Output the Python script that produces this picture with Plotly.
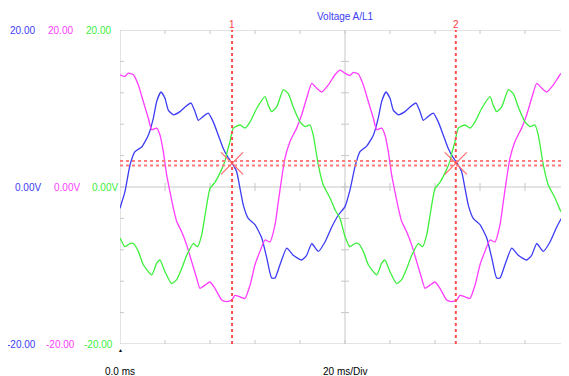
import plotly.graph_objects as go

# ---------------- data (time in ms, value in V) ----------------
blue_t = [0.00, 0.44, 0.89, 1.33, 1.93, 2.52, 2.96, 3.26, 3.64, 4.00, 4.29, 4.74, 5.33, 5.78,
          6.31, 6.67, 6.96, 7.40, 7.85, 8.29, 8.74, 9.18, 9.63, 9.93, 10.37, 10.67, 10.96,
          11.40, 12.00, 12.60, 13.04, 13.48, 13.78, 14.22, 14.82, 15.40, 16.15, 16.59, 17.04,
          17.63, 18.22, 18.82, 19.40,
          20.00, 20.44, 20.89, 21.33, 21.93, 22.52, 22.96, 23.26, 23.64, 24.00, 24.29, 24.74,
          25.33, 25.78, 26.31, 26.67, 26.96, 27.40, 27.85, 28.29, 28.74, 29.18, 29.63, 29.93,
          30.37, 30.67, 30.96, 31.40, 32.00, 32.60, 33.04, 33.48, 33.78, 34.22, 34.82, 35.40,
          36.15, 36.59, 37.04, 37.63, 38.22, 38.82, 39.40, 39.95]
blue_v = [-2.7, -0.6, 2.8, 4.5, 5.1, 6.6, 8.75, 10.9, 12.1, 11.3, 9.8, 9.2, 9.6, 10.2,
          10.7, 9.6, 8.5, 9.0, 9.4, 8.3, 6.6, 4.9, 3.7, 3.1, 1.95, -0.2, -2.3,
          -4.0, -4.8, -6.5, -9.0, -11.6, -11.6, -9.9, -7.8, -8.7, -9.3, -8.7, -7.2,
          -8.2, -7.0, -5.1, -3.6,
          -2.5, -0.4, 2.6, 4.5, 5.2, 6.6, 8.8, 10.9, 12.1, 11.3, 9.8, 9.2,
          9.6, 10.2, 10.7, 9.6, 8.5, 9.0, 9.4, 8.3, 6.6, 4.9, 3.7, 3.1,
          1.95, -0.2, -2.3, -4.0, -4.8, -6.5, -9.0, -11.6, -11.6, -9.9, -7.8, -8.7,
          -9.3, -8.7, -7.2, -8.2, -7.0, -5.1, -3.6, -2.5]

magenta_t = [0.00, 0.44, 0.74, 1.18, 1.63, 2.07, 2.52, 2.82, 3.26, 3.56, 3.85, 4.15, 4.44,
             4.74, 5.04, 5.48, 5.93, 6.37, 6.81, 7.11, 7.56, 8.00, 8.44, 9.04, 9.48, 9.93,
             10.22, 10.67, 11.11, 11.56, 12.00, 12.44, 12.89, 13.33, 13.78, 14.07, 14.37,
             14.67, 15.11, 15.70, 16.15, 16.59, 17.04, 17.48, 17.93, 18.52, 19.11, 19.56,
             20.00, 20.44, 20.74, 21.18, 21.63, 22.07, 22.52, 22.82, 23.26, 23.56, 23.85,
             24.15, 24.44, 24.74, 25.04, 25.48, 25.93, 26.37, 26.81, 27.11, 27.56, 28.00,
             28.44, 29.04, 29.48, 29.93, 30.22, 30.67, 31.11, 31.56, 32.00, 32.44, 32.89,
             33.33, 33.78, 34.07, 34.37, 34.67, 35.11, 35.70, 36.15, 36.59, 37.04, 37.48,
             37.93, 38.52, 39.11, 39.56, 39.95]
magenta_v = [14.3, 14.1, 14.5, 14.3, 13.0, 10.9, 8.75, 7.3, 7.5, 6.6, 4.5, 1.5, -0.6,
             -2.7, -4.4, -5.7, -7.4, -9.5, -11.6, -12.9, -12.5, -12.1, -12.9, -14.4, -14.6, -14.4,
             -13.8, -14.0, -14.2, -12.5, -9.9, -8.2, -6.75, -7.0, -4.8, -1.9, 1.1,
             3.7, 5.8, 7.5, 9.2, 11.3, 13.2, 12.6, 12.1, 13.0, 14.3, 14.9,
             14.5, 14.2, 14.6, 14.4, 13.0, 10.9, 8.75, 7.3, 7.5, 6.6, 4.5,
             1.5, -0.6, -2.7, -4.4, -5.7, -7.4, -9.5, -11.6, -12.9, -12.5, -12.1,
             -12.9, -14.4, -14.6, -14.4, -13.8, -14.0, -14.2, -12.5, -9.9, -8.2, -6.75,
             -7.0, -4.8, -1.9, 1.1, 3.7, 5.8, 7.5, 9.2, 11.3, 13.2, 12.6,
             12.1, 13.0, 14.3, 14.9, 15.1]

green_t = [0.00, 0.44, 0.89, 1.18, 1.63, 2.07, 2.82, 3.26, 3.56, 4.00, 4.59, 5.04, 5.48,
           5.93, 6.51, 6.90, 7.26, 7.56, 8.00, 8.44, 8.89, 9.33, 9.51, 9.78, 10.07, 10.67,
           11.11, 11.56, 12.15, 12.89, 13.18, 13.48, 13.93, 14.52, 14.96, 15.40, 16.00,
           16.44, 16.89, 17.18, 17.63, 18.07, 18.67, 19.11, 19.56,
           20.00, 20.44, 20.89, 21.18, 21.63, 22.07, 22.82, 23.26, 23.56, 24.00, 24.59,
           25.04, 25.48, 25.93, 26.51, 26.90, 27.26, 27.56, 28.00, 28.44, 28.89, 29.33,
           29.51, 29.78, 30.07, 30.67, 31.11, 31.56, 32.15, 32.89, 33.18, 33.48, 33.93,
           34.52, 34.96, 35.40, 36.00, 36.44, 36.89, 37.18, 37.63, 38.07, 38.67, 39.11,
           39.56, 39.95]
green_v = [-6.5, -7.6, -7.2, -7.2, -8.2, -9.9, -11.2, -9.7, -9.3, -10.8, -12.3, -11.8, -10.4,
           -8.7, -7.2, -7.6, -6.1, -3.6, -0.2, 0.6, 1.8, 3.3, 4.4, 5.8, 7.5, 7.9,
           7.5, 8.3, 10.0, 11.5, 10.4, 9.6, 10.2, 12.4, 11.9, 10.2, 8.3,
           7.7, 7.9, 6.6, 2.8, 0.25, -1.4, -2.9, -4.0,
           -6.3, -7.6, -7.2, -7.2, -8.2, -9.9, -11.2, -9.7, -9.3, -10.8, -12.3,
           -11.8, -10.4, -8.7, -7.2, -7.6, -6.1, -3.6, -0.2, 0.6, 1.8, 3.3,
           4.4, 5.8, 7.5, 7.9, 7.5, 8.3, 10.0, 11.5, 10.4, 9.6, 10.2,
           12.4, 11.9, 10.2, 8.3, 7.7, 7.9, 6.6, 2.8, 0.25, -1.4, -2.9,
           -4.0, -5.3]

cursor_t = [9.96, 29.85]
cursor_labels = ["1", "2"]
cursor_level = [3.3, 2.75]
cross_v = [3.0, 3.0]

x_minor = [0, 4, 8, 12, 16, 20, 24, 28, 32, 36, 40]
y_minor = [-20, -16, -12, -8, -4, 0, 4, 8, 12, 16, 20]
x_center = 20
y_center = 0

scale_labels = ["20.00", "0.00V", "-20.00"]
scale_values = [20, 0, -20]
series_colors = ["#3c3cf4", "#ff3cff", "#3cf03c"]
title = "Voltage A/L1"
start_label = "0.0 ms"
div_label = "20 ms/Div"

# ---------------- figure ----------------
fig = go.Figure()
for t, v, c in [(blue_t, blue_v, series_colors[0]),
                (magenta_t, magenta_v, series_colors[1]),
                (green_t, green_v, series_colors[2])]:
    fig.add_trace(go.Scatter(x=t, y=v, mode="lines",
                             line=dict(color=c, width=1.3, shape="spline", smoothing=0.5),
                             hoverinfo="skip", showlegend=False))

fig.add_trace(go.Scatter(x=cursor_t, y=cross_v, mode="markers",
                         marker=dict(symbol="x-thin-open", size=22, color="#ff6a6a",
                                     line=dict(color="#ff6a6a", width=1.2)),
                         showlegend=False, hoverinfo="skip"))

grid = "#c8c8c8"
shapes = []
# frame lines
shapes.append(dict(type="line", xref="x", yref="y", x0=x_minor[0], x1=x_minor[0],
                   y0=y_minor[0], y1=y_minor[-1], line=dict(color=grid, width=1), layer="below"))
for yy in (y_minor[0], y_minor[-1], y_center):
    shapes.append(dict(type="line", xref="x", yref="y", x0=x_minor[0], x1=x_minor[-1],
                       y0=yy, y1=yy, line=dict(color=grid, width=1), layer="below"))
shapes.append(dict(type="line", xref="x", yref="y", x0=x_center, x1=x_center,
                   y0=y_minor[0], y1=y_minor[-1], line=dict(color=grid, width=1), layer="below"))
# x ticks
for xx in x_minor[1:-1]:
    for anchor, a, b in ((y_minor[-1], -4, 0), (y_minor[0], 0, 4), (y_center, -4, 4)):
        shapes.append(dict(type="line", xref="x", yref="y", x0=xx, x1=xx,
                           ysizemode="pixel", yanchor=anchor, y0=a, y1=b,
                           line=dict(color=grid, width=1), layer="below"))
# y ticks
for yy in y_minor[1:-1]:
    for anchor, a, b in ((x_minor[0], 0, 4), (x_minor[-1], -4, 0), (x_center, -4, 4)):
        shapes.append(dict(type="line", xref="x", yref="y", y0=yy, y1=yy,
                           xsizemode="pixel", xanchor=anchor, x0=a, x1=b,
                           line=dict(color=grid, width=1), layer="below"))
# cursors
for ct in cursor_t:
    shapes.append(dict(type="line", xref="x", yref="y", x0=ct, x1=ct,
                       y0=y_minor[0], y1=y_minor[-1],
                       line=dict(color="#ff5050", width=2, dash="dot")))
for lv in cursor_level:
    shapes.append(dict(type="line", xref="x", yref="y", x0=x_minor[0], x1=x_minor[-1],
                       y0=lv, y1=lv, line=dict(color="#ff7a7a", width=2, dash="dot")))

font = "Liberation Sans, Arial, sans-serif"
ann = []
label_x = [[8, 46, 84], [13, 52, 90], [5, 44, 82]]
for lbl, val, xs in zip(scale_labels, scale_values, label_x):
    for px, c in zip(xs, series_colors):
        ann.append(dict(text=lbl, xref="paper", yref="y", x=0, y=val, xanchor="left",
                        xshift=px - 120, showarrow=False, font=dict(size=10, color=c, family=font)))
for ct, lbl in zip(cursor_t, cursor_labels):
    ann.append(dict(text=lbl, xref="x", yref="paper", x=ct, y=1, yanchor="bottom",
                    yshift=-2, showarrow=False, font=dict(size=10, color="#ff4040", family=font)))
ann.append(dict(text=title, xref="x", yref="paper", x=x_center, y=1, yanchor="bottom",
                yshift=6, showarrow=False, font=dict(size=10, color="#3c3cf4", family=font)))
ann.append(dict(text=start_label, xref="x", yref="paper", x=x_minor[0], y=0, yanchor="top",
                yshift=-20, showarrow=False, font=dict(size=10, color="#000000", family=font)))
ann.append(dict(text=div_label, xref="x", yref="paper", x=x_center, y=0, yanchor="top",
                yshift=-20, showarrow=False, font=dict(size=10, color="#000000", family=font)))
ann.append(dict(text="▲", xref="x", yref="paper", x=x_minor[0], y=0, yanchor="top",
                yshift=-1, showarrow=False, font=dict(size=5, color="#000000", family=font)))

# the page adds an 8 px body margin, so the figure is 8 px smaller and shifted
fig.update_layout(
    width=561, height=368,
    margin=dict(l=112, r=0, t=22, b=32),
    paper_bgcolor="white", plot_bgcolor="white",
    xaxis=dict(range=[0, 39.911], visible=False, fixedrange=True),
    yaxis=dict(range=[-20, 20], visible=False, fixedrange=True),
    shapes=shapes, annotations=ann, showlegend=False,
)
fig.write_html("out.html")
